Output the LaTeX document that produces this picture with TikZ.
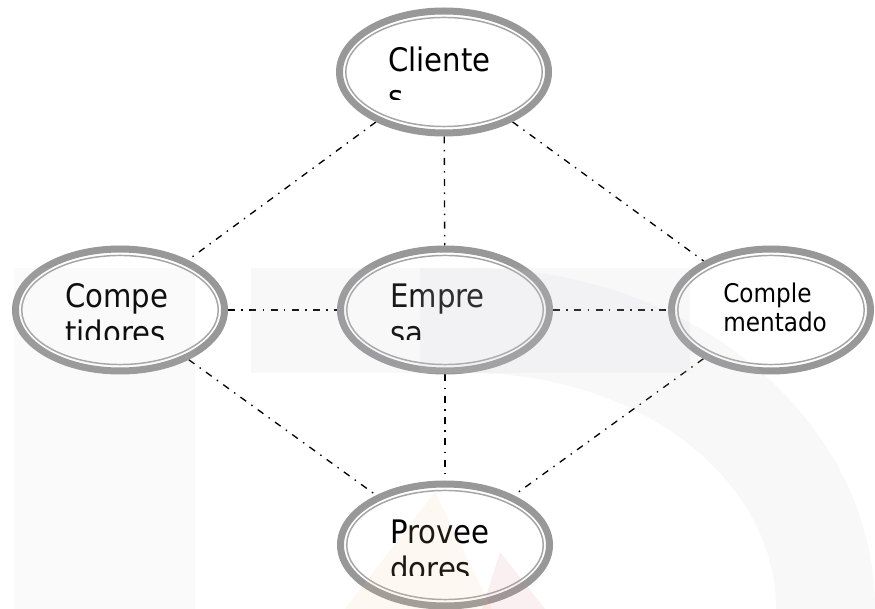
\documentclass[tikz,border=0pt]{standalone}
\usepackage{fontspec}
\usetikzlibrary{shapes.geometric}
\newfontfamily\lblfont[FakeStretch=0.9]{DejaVu Sans}
\definecolor{ringgray}{RGB}{152,152,152}
\definecolor{thingray}{RGB}{165,165,165}
\definecolor{wmgray}{RGB}{200,200,210}
\definecolor{wmpeach}{RGB}{250,200,150}
\definecolor{wmpink}{RGB}{225,140,150}
\pgfdeclarelayer{bgfill}
\pgfdeclarelayer{edges}
\pgfdeclarelayer{wm}
\pgfsetlayers{bgfill,edges,main,wm}
\begin{document}
\begin{tikzpicture}[x=0.75pt,y=-0.75pt,
  ringnode/.style={ellipse, draw=ringgray, line width=5.25pt, fill=white, inner sep=0pt,
     minimum width=156.75pt, minimum height=91.5pt},
  narrow/.style={minimum width=149.25pt},
  link/.style={line width=1pt, dash pattern=on 5.25pt off 4.8pt on 1.1pt off 4.8pt},
  lbl/.style={anchor=base west, inner sep=0pt, font=\lblfont\fontsize{24.3pt}{27.75pt}\selectfont},
  lblsmall/.style={anchor=base west, inner sep=0pt, font=\lblfont\fontsize{19.3pt}{21.75pt}\selectfont}]
\useasboundingbox (0,0) rectangle (875,609);
\begin{pgfonlayer}{bgfill}
  \fill[white] (0,0) rectangle (875,609);
\end{pgfonlayer}
% nodes
\node[ringnode] (cli) at (444,72) {};
\node[ringnode] (com) at (120,310) {};
\node[ringnode] (emp) at (445,310) {};
\node[ringnode,narrow] (cpl) at (771,310) {};
\node[ringnode] (pro) at (445,545) {};
% inner thin rings
\foreach \n in {cli,com,emp,pro}
  \draw[thingray, line width=1.1pt] (\n.center) ellipse [x radius=73.7pt, y radius=40.9pt];
\draw[thingray, line width=1.1pt] (cpl.center) ellipse [x radius=69.9pt, y radius=40.9pt];
% texts (clipped like overflowing text boxes)
\begin{scope}
  \clip (380,30) rectangle (520,100);
  \node[lbl] (tcli1) at (388,72) {Cliente};
  \node[lbl] (tcli2) at (388,109) {s};
\end{scope}
\begin{scope}
  \clip (55,265) rectangle (200,340);
  \node[lbl] (tcom1) at (65,308) {Compe};
  \node[lbl] (tcom2) at (65,345) {tidores};
\end{scope}
\begin{scope}
  \clip (380,265) rectangle (520,340);
  \node[lbl] (temp1) at (390,308) {Empre};
  \node[lbl] (temp2) at (390,345) {sa};
\end{scope}
\node[lblsmall] (tcpl1) at (723,303) {Comple};
\node[lblsmall] (tcpl2) at (723,332) {mentado};
\begin{scope}
  \clip (380,500) rectangle (520,575);
  \node[lbl] (tpro1) at (390,543) {Provee};
  \node[lbl] (tpro2) at (390,580) {dores};
\end{scope}
% connectors
\begin{pgfonlayer}{edges}
  \draw[link] (cli) -- (com);
  \draw[link] (cli) -- (emp);
  \draw[link] (cli) -- (cpl);
  \draw[link] (com) -- (emp);
  \draw[link] (emp) -- (cpl);
  \draw[link] (com) -- (pro);
  \draw[link] (emp) -- (pro);
  \draw[link] (cpl) -- (pro);
\end{pgfonlayer}
% faint watermark
\begin{pgfonlayer}{wm}
  \fill[wmgray, opacity=0.08] (14,268) rectangle (195,609);
  \fill[wmgray, opacity=0.12] (251,268) -- (469,268)
     arc[start angle=-90, end angle=0, x radius=406, y radius=341]
     -- (776,609)
     arc[start angle=0, end angle=-90, x radius=307, y radius=236]
     -- (251,373) -- cycle;
  \fill[wmgray, opacity=0.12] (420,268) rectangle (690,373);
  \fill[wmpeach, opacity=0.12] (435,492) -- (492,609) -- (345,609) -- cycle;
  \fill[wmpink, opacity=0.13] (500,552) -- (545,609) -- (482,609) -- cycle;
\end{pgfonlayer}
\end{tikzpicture}
\end{document}
